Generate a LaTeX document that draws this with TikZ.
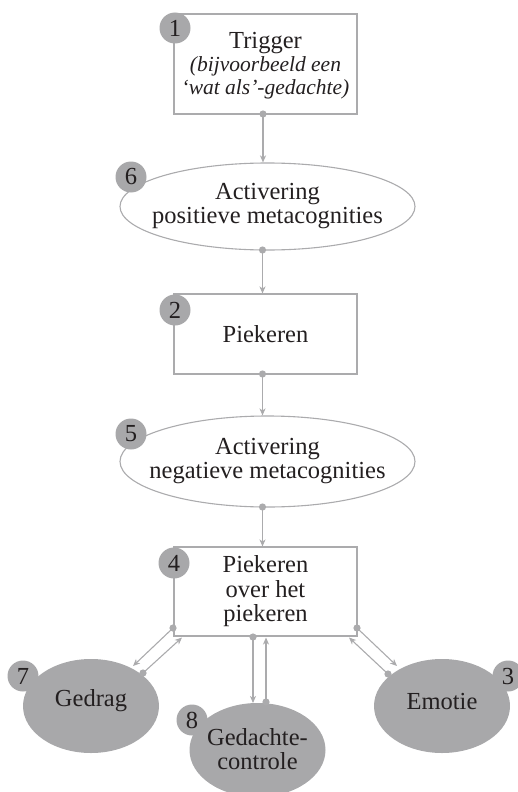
\documentclass[tikz,border=0pt]{standalone}
\usepackage{fontspec}
\setmainfont{Liberation Serif}
\usetikzlibrary{arrows.meta,shapes.geometric}
\definecolor{lgray}{HTML}{ABABAD}
\definecolor{fgray}{HTML}{A8A8AA}
\definecolor{ink}{HTML}{231F20}
\begin{document}
\begin{tikzpicture}[x=1pt,y=-1pt,
  txt/.style={font=\fontsize{24.5}{24.5}\selectfont, text=ink, align=center},
  stepbox/.style={draw=lgray, line width=1.1pt, rectangle, minimum width=183pt, inner sep=0pt, txt},
  ovalbox/.style={draw=lgray, line width=1.1pt, ellipse, minimum width=295pt, inner sep=0pt},
  blob/.style={fill=fgray, ellipse, minimum width=136pt, minimum height=94pt, inner sep=0pt},
  badge/.style={fill=fgray, circle, minimum size=31pt, inner sep=0pt, txt},
  conn/.style={draw=lgray, line width=1.1pt, -{Stealth[length=7pt,width=6pt,inset=2pt]}},
  dotc/.style={fill=lgray}
]
\useasboundingbox (0,0) rectangle (517,792);
% nodes
\node[stepbox, minimum height=100pt] (b1) at (265.5,64) {};
\node[txt, font=\fontsize{24.5}{23}\selectfont] (b1t) at (265.5,66) {Trigger\\{\fontsize{21.5}{23}\selectfont\itshape (bijvoorbeeld een}\\{\fontsize{21.5}{23}\selectfont\itshape `wat als'-gedachte)}};
\node[ovalbox, minimum height=87pt] (e6) at (267.5,206.5) {};
\node[txt] (e6t) at (267.5,206) {Activering\\positieve metacognities};
\node[stepbox, minimum height=80pt] (b2) at (265.5,334) {Piekeren};
\node[ovalbox, minimum height=91pt] (e5) at (267.5,461.5) {};
\node[txt] (e5t) at (267.5,461) {Activering\\negatieve metacognities};
\node[stepbox, minimum height=89pt] (b4) at (265.5,591.5) {Piekeren\\over het\\piekeren};
\node[blob] (g7) at (91,706) {};
\node[txt] (g7t) at (91,701) {Gedrag};
\node[blob] (g8) at (257.5,750) {};
\node[txt] (g8t) at (257.5,749) {Gedachte-\\controle};
\node[blob] (g3) at (442,706) {};
\node[txt] (g3t) at (442,701) {Emotie};
% badges
\node[badge] (n1) at (175,28) {1};
\node[badge] (n6) at (131,177) {6};
\node[badge] (n2) at (175,310) {2};
\node[badge] (n5) at (131,434) {5};
\node[badge] (n4) at (174,563) {4};
\node[badge] (n7) at (23,676) {7};
\node[badge] (n8) at (192,720) {8};
\node[badge] (n3) at (508,676) {3};
% connector points
\coordinate (d1) at (263,114);
\coordinate (d6) at (262.5,250);
\coordinate (d2) at (262.5,374);
\coordinate (d5) at (262.5,507);
\coordinate (d4l) at (173,628);
\coordinate (d4m) at (253,637);
\coordinate (d4r) at (357,628);
\coordinate (t7) at (133,666);
\coordinate (d7) at (143,673);
\coordinate (t4l) at (182,637.5);
\coordinate (t8) at (253,703);
\coordinate (d8) at (266,702);
\coordinate (t4m) at (266,637.5);
\coordinate (t3) at (397,666);
\coordinate (d3) at (388,674);
\coordinate (t4r) at (349,637.5);
% connectors
\draw[conn] (d1) -- (d1 |- e6.north);
\draw[conn] (d6) -- (d6 |- b2.north);
\draw[conn] (d2) -- (d2 |- e5.north);
\draw[conn] (d5) -- (d5 |- b4.north);
\draw[conn] (d4l) -- (t7);
\draw[conn] (d7) -- (t4l);
\draw[conn] (d4m) -- (t8);
\draw[conn] (d8) -- (t4m);
\draw[conn] (d4r) -- (t3);
\draw[conn] (d3) -- (t4r);
% dots
\foreach \p in {d1,d6,d2,d5,d4l,d4m,d4r,d7,d8,d3}
  \fill[dotc] (\p) circle (3.6pt);
\end{tikzpicture}
\end{document}
